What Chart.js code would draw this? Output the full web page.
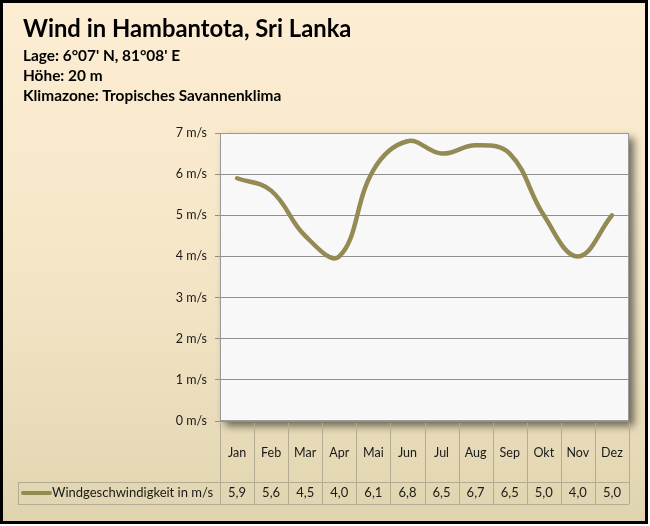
<!DOCTYPE html>
<html><head><meta charset="utf-8">
<script src="https://cdn.jsdelivr.net/npm/chart.js@4/dist/chart.umd.min.js"></script>
<style>
html,body{margin:0;padding:0;background:#fff;}
#wrap{position:relative;width:650px;height:526px;overflow:hidden;background:#fff;}
#frame{position:absolute;left:0;top:0;width:642px;height:518px;border:3px solid #000;
 background:linear-gradient(to bottom,#fcedd3 0%,#f8e9cc 35%,#eee0bf 70%,#e0d4b0 100%);}
#c{position:absolute;left:0;top:0;}
</style></head>
<body><div id="wrap"><div id="frame"></div><canvas id="c" width="650" height="526"></canvas></div>
<script>
const months = ['Jan','Feb','Mar','Apr','Mai','Jun','Jul','Aug','Sep','Okt','Nov','Dez'];
const windSpeed = [5.9,5.6,4.5,4.0,6.1,6.8,6.5,6.7,6.5,5.0,4.0,5.0];
const seriesName = 'Windgeschwindigkeit in m/s';
const tableValues = ['5,9','5,6','4,5','4,0','6,1','6,8','6,5','6,7','6,5','5,0','4,0','5,0'];
const titleText = 'Wind in Hambantota, Sri Lanka';
const subtitleLines = ["Lage: 6°07' N, 81°08' E", 'Höhe: 20 m', 'Klimazone: Tropisches Savannenklima'];
const yMin = 0, yMax = 7, yStep = 1, yUnit = ' m/s';

const FONT = 'Lato';
const LINE = '#948a54';
const TXT = '#1a1a1a';
const TBL = '#b3ab92';

const decor = {
  id: 'decor',
  beforeDraw(chart) {
    const {ctx, chartArea: a} = chart;
    ctx.save();
    ctx.shadowColor = 'rgba(0,0,0,0.55)';
    ctx.shadowBlur = 8;
    ctx.shadowOffsetX = 5;
    ctx.shadowOffsetY = 5;
    ctx.fillStyle = '#f8f8f8';
    ctx.fillRect(a.left, a.top, a.right - a.left, a.bottom - a.top);
    ctx.restore();
  },
  afterDraw(chart) {
    const {ctx, chartArea: a} = chart;
    const xs = chart.scales.x;
    ctx.save();
    ctx.strokeStyle = '#9a9a9a';
    ctx.lineWidth = 1;
    ctx.strokeRect(a.left + 0.5, a.top + 0.5, a.right - a.left - 1, a.bottom - a.top - 1);
    ctx.fillStyle = '#000';
    ctx.textAlign = 'left';
    ctx.textBaseline = 'alphabetic';
    ctx.font = 'bold 23.8px ' + FONT;
    ctx.fillText(titleText, 23, 37);
    ctx.font = 'bold 15.4px ' + FONT;
    const bl = [61, 81, 101];
    subtitleLines.forEach((s, i) => ctx.fillText(s, 23, bl[i]));
    const n = months.length;
    const w = xs.getPixelForValue(1) - xs.getPixelForValue(0);
    const rowTop = 482, rowBot = 504, tblLeft = 18;
    ctx.strokeStyle = TBL;
    ctx.lineWidth = 1;
    ctx.beginPath();
    for (let i = 0; i <= n; i++) {
      const bx = Math.round(xs.getPixelForValue(0) - w / 2 + i * w) + 0.5;
      ctx.moveTo(bx, a.bottom + 2);
      ctx.lineTo(bx, rowBot);
    }
    ctx.moveTo(tblLeft + 0.5, rowTop);
    ctx.lineTo(tblLeft + 0.5, rowBot);
    ctx.moveTo(tblLeft, rowTop + 0.5);
    ctx.lineTo(a.right, rowTop + 0.5);
    ctx.moveTo(tblLeft, rowBot + 0.5);
    ctx.lineTo(a.right, rowBot + 0.5);
    ctx.stroke();
    ctx.strokeStyle = LINE;
    ctx.lineWidth = 4;
    ctx.lineCap = 'round';
    ctx.beginPath();
    ctx.moveTo(23, 493);
    ctx.lineTo(50, 493);
    ctx.stroke();
    ctx.fillStyle = TXT;
    ctx.font = '13px ' + FONT;
    ctx.textBaseline = 'middle';
    ctx.textAlign = 'left';
    ctx.fillText(seriesName, 52, 493);
    ctx.textAlign = 'center';
    tableValues.forEach((v, i) => ctx.fillText(v, xs.getPixelForValue(i), 493));
    ctx.restore();
  }
};

new Chart(document.getElementById('c'), {
  type: 'line',
  data: {
    labels: months,
    datasets: [{
      label: seriesName,
      data: windSpeed,
      borderColor: LINE,
      borderWidth: 4.5,
      borderCapStyle: 'round',
      pointRadius: 0,
      tension: 0.4,
      fill: false
    }]
  },
  options: {
    responsive: false,
    animation: false,
    devicePixelRatio: 1,
    layout: {padding: {left: 0, right: 21, top: 133, bottom: 0}},
    plugins: {legend: {display: false}, tooltip: {enabled: false}},
    scales: {
      x: {
        type: 'category',
        offset: true,
        grid: {display: false},
        border: {display: false},
        ticks: {font: {family: FONT, size: 12.5}, color: TXT, padding: 16, maxRotation: 0, autoSkip: false},
        afterFit(s) { s.height = 105; }
      },
      y: {
        min: yMin, max: yMax,
        ticks: {stepSize: yStep, callback: v => v + yUnit, padding: 8, font: {family: FONT, size: 12.5}, color: TXT},
        grid: {color: '#8f8f8f', tickLength: 5, lineWidth: 1},
        border: {color: '#8f8f8f'},
        afterFit(s) { s.width = 220; }
      }
    }
  },
  plugins: [decor]
});
</script></body></html>
